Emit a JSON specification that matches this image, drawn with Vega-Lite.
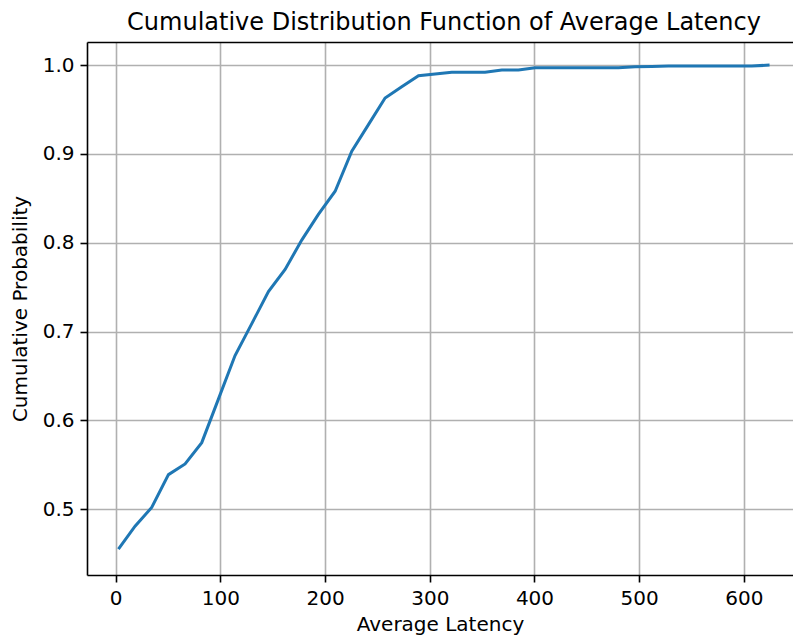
{
  "$schema": "https://vega.github.io/schema/vega-lite/v6.json",
  "autosize": {"type": "none"},
  "padding": {"left": 87, "top": 42, "right": 0, "bottom": 65},
  "width": 706,
  "height": 533,
  "background": "white",
  "title": {"text": "Cumulative Distribution Function of Average Latency", "fontSize": 24, "fontWeight": "normal", "anchor": "middle", "frame": "group", "offset": 13, "baseline": "alphabetic", "dx": 4, "dy": 25, "color": "#000"},
  "config": {
    "font": "DejaVu Sans",
    "view": {"stroke": null},
    "axis": {
      "gridColor": "#b0b0b0", "gridWidth": 1.6, "gridOpacity": 1,
      "domainColor": "#000", "domainWidth": 1.6,
      "tickColor": "#000", "tickWidth": 1.6, "tickSize": 7,
      "labelFontSize": 20, "labelPadding": 6, "labelColor": "#000", "labelFlush": false,
      "titleFontSize": 20, "titleFontWeight": "normal", "titleColor": "#000", "titlePadding": 6
    }
  },
  "data": {"values": [
    {"latency": 2.6, "cdf": 0.455},
    {"latency": 18.5, "cdf": 0.481},
    {"latency": 34.4, "cdf": 0.502},
    {"latency": 50.4, "cdf": 0.539},
    {"latency": 66.3, "cdf": 0.551},
    {"latency": 82.2, "cdf": 0.575},
    {"latency": 98.1, "cdf": 0.624},
    {"latency": 114.0, "cdf": 0.673},
    {"latency": 130.0, "cdf": 0.709},
    {"latency": 145.9, "cdf": 0.745},
    {"latency": 161.8, "cdf": 0.770},
    {"latency": 177.7, "cdf": 0.803},
    {"latency": 193.6, "cdf": 0.832},
    {"latency": 209.6, "cdf": 0.858},
    {"latency": 225.5, "cdf": 0.903},
    {"latency": 241.4, "cdf": 0.933},
    {"latency": 257.3, "cdf": 0.963},
    {"latency": 273.2, "cdf": 0.9755},
    {"latency": 289.2, "cdf": 0.988},
    {"latency": 305.1, "cdf": 0.990},
    {"latency": 321.0, "cdf": 0.992},
    {"latency": 336.9, "cdf": 0.992},
    {"latency": 352.8, "cdf": 0.992},
    {"latency": 368.8, "cdf": 0.9945},
    {"latency": 384.7, "cdf": 0.9945},
    {"latency": 400.6, "cdf": 0.997},
    {"latency": 416.5, "cdf": 0.997},
    {"latency": 432.4, "cdf": 0.997},
    {"latency": 448.4, "cdf": 0.997},
    {"latency": 464.3, "cdf": 0.997},
    {"latency": 480.2, "cdf": 0.997},
    {"latency": 496.1, "cdf": 0.998},
    {"latency": 512.0, "cdf": 0.9985},
    {"latency": 527.9, "cdf": 0.999},
    {"latency": 543.9, "cdf": 0.999},
    {"latency": 559.8, "cdf": 0.999},
    {"latency": 575.7, "cdf": 0.999},
    {"latency": 591.6, "cdf": 0.999},
    {"latency": 607.5, "cdf": 0.999},
    {"latency": 624.5, "cdf": 1.0}
  ]},
  "layer": [
    {
      "mark": {"type": "line", "color": "#1f77b4", "strokeWidth": 3, "clip": true},
      "encoding": {
        "x": {"field": "latency", "type": "quantitative",
              "scale": {"domain": [-27.4, 646.9], "nice": false, "zero": false},
              "axis": {"values": [0, 100, 200, 300, 400, 500, 600], "title": "Average Latency", "grid": true}},
        "y": {"field": "cdf", "type": "quantitative",
              "scale": {"domain": [0.426, 1.026], "nice": false, "zero": false},
              "axis": {"values": [0.5, 0.6, 0.7, 0.8, 0.9, 1.0], "format": ".1f", "title": "Cumulative Probability", "grid": true, "titlePadding": 12}}
      }
    },
    {
      "mark": {"type": "point", "opacity": 0},
      "encoding": {
        "x": {"field": "latency", "type": "quantitative",
              "axis": {"orient": "top", "labels": false, "ticks": false, "grid": false, "domain": true, "title": null}},
        "y": {"field": "cdf", "type": "quantitative"}
      }
    }
  ],
  "resolve": {"axis": {"x": "independent"}}
}
